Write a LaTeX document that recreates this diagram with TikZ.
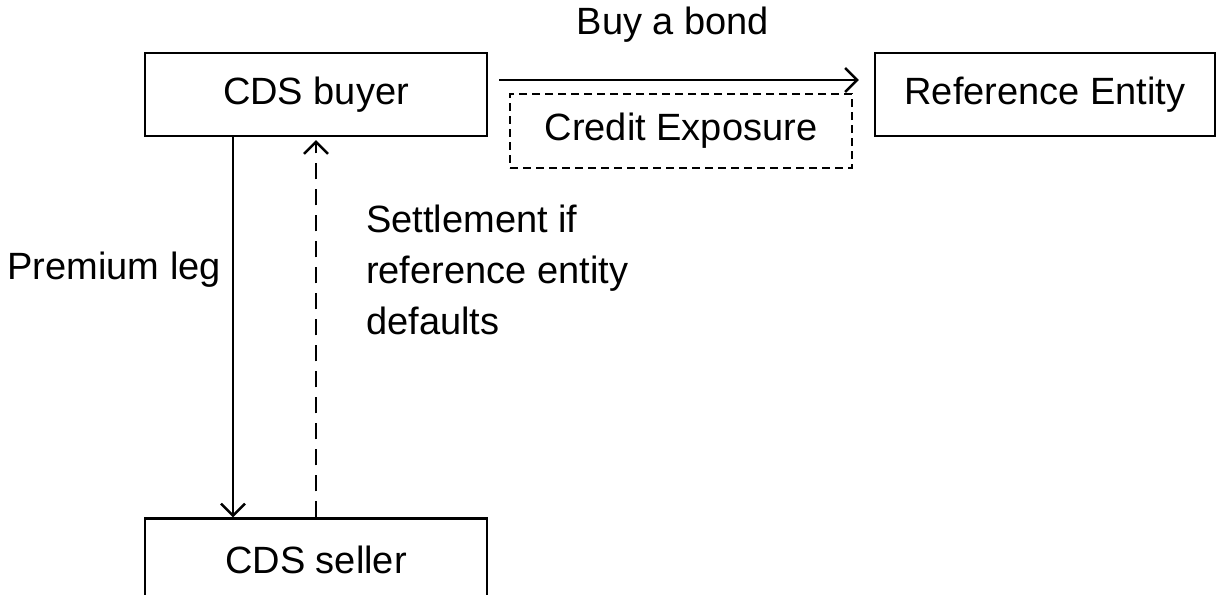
\documentclass[tikz,border=0pt]{standalone}
\usepackage{fontspec}
\setmainfont{Liberation Sans}
\usetikzlibrary{arrows.meta}
\begin{document}
\begin{tikzpicture}[x=1pt,y=-1pt,
  box/.style={draw,line width=2.4pt,minimum width=342pt,minimum height=83pt,inner sep=0pt,font=\fontsize{38}{46}\selectfont},
  dbox/.style={draw,line width=1.8pt,dash pattern=on 8pt off 5pt,minimum width=342pt,minimum height=74pt,inner sep=0pt,font=\fontsize{38}{46}\selectfont},
  lbl/.style={inner sep=0pt,font=\fontsize{38}{51}\selectfont},
  arr/.style={line width=2.4pt,-{Straight Barb[length=12pt,width=24pt,line width=2.4pt]}},
  darr/.style={arr,dash pattern=on 16pt off 10pt}]
\useasboundingbox (0,0) rectangle (1217,594);
\node[box] (buyer) at (316,94.5) {CDS buyer};
\node[box,minimum width=340pt] (ref) at (1045,94.5) {Reference Entity};
\node[dbox] (credit) at (681,131) {Credit Exposure};
\node[box] (seller) at (316,560) {CDS seller};
\node[lbl] (bond) at (673,25) {Buy a bond};
\node[lbl,anchor=east] (prem) at (221,270) {Premium leg};
\node[lbl,anchor=west,align=left] (settle) at (366,270) {Settlement if\\reference entity\\defaults};
\draw[arr] ([shift={(11,-14.5)}]buyer.east) -- ([shift={(-15,-14.5)}]ref.west);
\draw[arr] ([xshift=-83pt]buyer.south) -- ([xshift=-83pt]seller.north);
\draw[darr] (seller.north) -- ([yshift=-3pt]buyer.south);
\end{tikzpicture}
\end{document}
